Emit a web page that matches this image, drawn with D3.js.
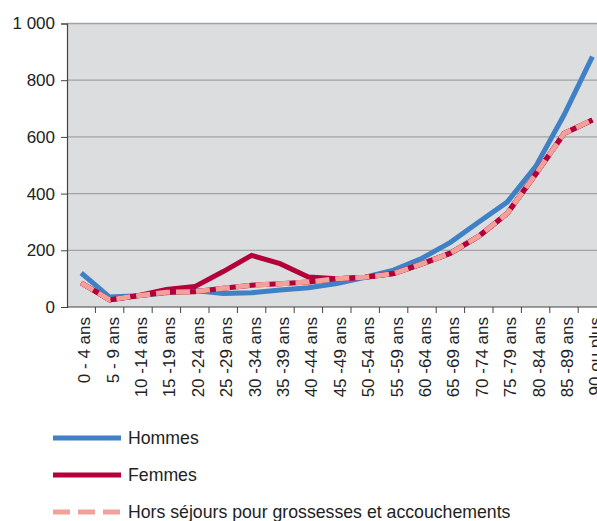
<!DOCTYPE html>
<html>
<head>
<meta charset="utf-8">
<script src="https://cdn.jsdelivr.net/npm/d3@7/dist/d3.min.js"></script>
<style>
  body { margin: 0; background: #fff; }
  svg { display: block; font-family: "Liberation Sans", Arial, sans-serif; }
</style>
</head>
<body>
<svg width="597" height="521"></svg>
<script>
// age groups on the x axis
var ages = ["0 - 4 ans", "5 - 9 ans", "10 -14 ans", "15 -19 ans", "20 -24 ans", "25 -29 ans",
	"30 -34 ans", "35 -39 ans", "40 -44 ans", "45 -49 ans", "50 -54 ans", "55 -59 ans",
	"60 -64 ans", "65 -69 ans", "70 -74 ans", "75 -79 ans", "80 -84 ans", "85 -89 ans", "90 ou plus"];

var hommes = [120, 35, 40, 50, 58, 48, 50, 60, 68, 83, 105, 130, 172, 228, 300, 370, 495, 677, 883];
var femmes = [85, 25, 40, 62, 72, 125, 182, 153, 106, 100, 105, 118, 152, 190, 250, 330, 468, 612, 660];
var horsSejours = [85, 25, 40, 52, 54, 66, 77, 82, 88, 100, 105, 118, 152, 190, 250, 330, 468, 612, 660];

var yTicks = [0, 200, 400, 600, 800, 1000];

var svg = d3.select("svg"),
	plotLeft = 67,
	plotTop = 23.5,
	plotBottom = 307,
	bandW = 28.4;

var x = d3.scaleBand()
	.domain(ages)
	.range([plotLeft, plotLeft + bandW * ages.length]);

var y = d3.scaleLinear()
	.domain([0, 1000])
	.range([plotBottom, plotTop]);

// plot background
svg.append("rect")
	.attr("x", plotLeft)
	.attr("y", plotTop)
	.attr("width", x.range()[1] - plotLeft)
	.attr("height", plotBottom - plotTop)
	.attr("fill", "#dcdddf");

// grid lines
svg.selectAll(".grid")
	.data(yTicks.filter(d => d > 0))
	.enter()
	.append("line")
	.attr("class", "grid")
	.attr("x1", plotLeft)
	.attr("x2", x.range()[1])
	.attr("y1", d => y(d))
	.attr("y2", d => y(d))
	.attr("stroke", "#a3a3a3")
	.attr("stroke-width", 1.3);

// y axis
var yAxis = svg.append("g")
	.attr("transform", "translate(" + plotLeft + ",0)")
	.call(d3.axisLeft(y)
		.tickValues(yTicks)
		.tickSize(6)
		.tickPadding(6)
		.tickFormat(d => d3.format(",")(d).replace(",", " ")));
yAxis.select(".domain").attr("stroke", "#444").attr("stroke-width", 1.2);
yAxis.selectAll(".tick line").attr("stroke", "#444");
yAxis.selectAll("text")
	.attr("fill", "#222")
	.style("font-size", "17px")
	.style("font-family", "Liberation Sans, Arial, sans-serif");

// x axis, ticks on band edges
var xg = svg.append("g");
xg.append("line")
	.attr("x1", plotLeft)
	.attr("x2", x.range()[1])
	.attr("y1", plotBottom)
	.attr("y2", plotBottom)
	.attr("stroke", "#444")
	.attr("stroke-width", 1.2);
xg.selectAll(".xtick")
	.data(ages)
	.enter()
	.append("line")
	.attr("x1", d => x(d) + bandW)
	.attr("x2", d => x(d) + bandW)
	.attr("y1", plotBottom)
	.attr("y2", plotBottom + 6)
	.attr("stroke", "#444");
xg.selectAll(".xlab")
	.data(ages)
	.enter()
	.append("text")
	.attr("transform", d => "translate(" + (x(d) + bandW / 2 + 9) + "," + (plotBottom + 10) + ") rotate(-90)")
	.attr("text-anchor", "end")
	.attr("fill", "#222")
	.style("font-size", "17px")
	.text(d => d);

var line = d3.line()
	.x((d, i) => x(ages[i]) + bandW / 2)
	.y(d => y(d));

svg.append("path")
	.datum(hommes)
	.attr("d", line)
	.attr("fill", "none")
	.attr("stroke", "#4080c4")
	.attr("stroke-width", 5);

svg.append("path")
	.datum(femmes)
	.attr("d", line)
	.attr("fill", "none")
	.attr("stroke", "#b3003a")
	.attr("stroke-width", 5);

svg.append("path")
	.datum(horsSejours)
	.attr("d", line)
	.attr("fill", "none")
	.attr("stroke", "#b3003a")
	.attr("stroke-width", 5);
svg.append("path")
	.datum(horsSejours)
	.attr("d", line)
	.attr("fill", "none")
	.attr("stroke", "#f4a09a")
	.attr("stroke-width", 5)
	.attr("stroke-dasharray", "14,6");

// legend
var legend = [
	{ name: "Hommes", color: "#4080c4", dash: null, y: 438 },
	{ name: "Femmes", color: "#b3003a", dash: null, y: 475 },
	{ name: "Hors séjours pour grossesses et accouchements", color: "#f4a09a", dash: "17,8", y: 512 }
];
var lg = svg.selectAll(".legend")
	.data(legend)
	.enter()
	.append("g")
	.attr("class", "legend");
lg.append("line")
	.attr("x1", 53)
	.attr("x2", 121)
	.attr("y1", d => d.y)
	.attr("y2", d => d.y)
	.attr("stroke", d => d.color)
	.attr("stroke-width", 5)
	.attr("stroke-dasharray", d => d.dash);
lg.append("text")
	.attr("x", 128)
	.attr("y", d => d.y + 6)
	.attr("fill", "#222")
	.style("font-size", "17.7px")
	.text(d => d.name);
</script>
</body>
</html>
